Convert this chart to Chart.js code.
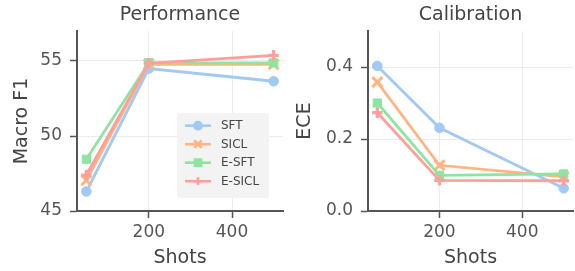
<!DOCTYPE html>
<html>
<head>
<meta charset="utf-8">
<script src="https://cdn.jsdelivr.net/npm/chart.js@4.4.1/dist/chart.umd.min.js"></script>
<style>
  html, body { margin: 0; padding: 0; background: #fff; }
  #wrap { position: relative; width: 575px; height: 271px; }
  canvas { position: absolute; top: 0; }
</style>
</head>
<body>
<div id="wrap">
  <canvas id="perfChart" width="290" height="271" style="left:0"></canvas>
  <canvas id="calibChart" width="285" height="271" style="left:290px"></canvas>
</div>
<script>
// data
const shots = [50, 200, 500];
const seriesNames = ['SFT', 'SICL', 'E-SFT', 'E-SICL'];
const seriesColors = ['#a1c9f4', '#ffb482', '#8de5a1', '#ff9f9b'];

const f1SFT = [46.3, 54.5, 53.65];
const f1SICL = [47.05, 54.8, 54.78];
const f1ESFT = [48.45, 54.88, 54.87];
const f1ESICL = [47.4, 54.85, 55.38];

const eceSFT = [0.403, 0.231, 0.063];
const eceSICL = [0.358, 0.127, 0.095];
const eceESFT = [0.300, 0.099, 0.103];
const eceESICL = [0.273, 0.085, 0.084];

const xTicks = [200, 400];
const f1Ticks = [45, 50, 55];
const eceTicks = [0.0, 0.2, 0.4];

const FONT = 'DejaVu Sans';
const TEXT = '#444444';
const AXIS = '#555555';
const GRID = '#ebebeb';

// marker per series (matplotlib o, X, s, P)
const markers = [
    { pointStyle: 'circle', radius: 4.8, borderWidth: 1 },
    { pointStyle: 'crossRot', radius: 7, borderWidth: 3 },
    { pointStyle: 'rect', radius: 5.8, borderWidth: 1 },
    { pointStyle: 'cross', radius: 5.2, borderWidth: 3.2 }
];

function makeDatasets(lists) {
    return lists.map((vals, i) => ({
        label: seriesNames[i],
        data: shots.map((s, j) => ({ x: s, y: vals[j] })),
        borderColor: seriesColors[i],
        backgroundColor: seriesColors[i],
        pointBackgroundColor: seriesColors[i],
        pointBorderColor: seriesColors[i],
        pointStyle: markers[i].pointStyle,
        pointRadius: markers[i].radius,
        pointBorderWidth: markers[i].borderWidth,
        borderWidth: 2.8,
        tension: 0,
        order: lists.length - i
    }));
}

// panel title centred over the plot area
const panelTitle = {
    id: 'panelTitle',
    afterDraw(chart, args, opts) {
        const ctx = chart.ctx;
        const a = chart.chartArea;
        ctx.save();
        ctx.fillStyle = TEXT;
        ctx.font = '19px ' + FONT;
        ctx.textAlign = 'center';
        ctx.textBaseline = 'middle';
        ctx.fillText(opts.text, (a.left + a.right) / 2, 15.5);
        ctx.restore();
    }
};

// legend box inside the left panel
const insideLegend = {
    id: 'insideLegend',
    afterDraw(chart) {
        const ctx = chart.ctx;
        const a = chart.chartArea;
        const bx = a.left + 100, by = 113, bw = 92, bh = 85;
        ctx.save();
        ctx.fillStyle = '#f3f3f3';
        ctx.beginPath();
        ctx.roundRect(bx, by, bw, bh, 3);
        ctx.fill();
        seriesNames.forEach((name, i) => {
            const y = by + 12.7 + i * 18.5;
            ctx.strokeStyle = seriesColors[i];
            ctx.lineWidth = 2.6;
            ctx.beginPath();
            ctx.moveTo(bx + 8, y);
            ctx.lineTo(bx + 34, y);
            ctx.stroke();
            ctx.fillStyle = seriesColors[i];
            Chart.helpers.drawPoint(ctx, {
                pointStyle: markers[i].pointStyle,
                radius: markers[i].radius * 0.75,
                borderWidth: markers[i].borderWidth * 0.8,
                rotation: 0
            }, bx + 21, y);
            ctx.fillStyle = TEXT;
            ctx.font = '12px ' + FONT;
            ctx.textBaseline = 'middle';
            ctx.fillText(name, bx + 44, y + 0.5);
        });
        ctx.restore();
    }
};

function makeOptions(title, yTitle, yMin, yMax, yTicks, yFmt, yWidth, padRight, yTitlePad) {
    return {
        responsive: false,
        devicePixelRatio: 1,
        animation: false,
        layout: { autoPadding: false, padding: { left: 0, right: padRight, top: 31, bottom: 0 } },
        plugins: {
            legend: { display: false },
            tooltip: { enabled: false },
            title: { display: false },
            panelTitle: { text: title }
        },
        scales: {
            x: {
                type: 'linear',
                min: 27.5,
                max: 522.5,
                afterBuildTicks: s => { s.ticks = xTicks.map(v => ({ value: v })); },
                afterFit: s => { s.height = 60; },
                ticks: { color: AXIS, font: { family: FONT, size: 17 }, padding: 4 },
                grid: { color: GRID, lineWidth: 1, tickColor: AXIS, tickLength: 7, tickWidth: 1.5 },
                border: { color: AXIS, width: 2 },
                title: {
                    display: true, text: 'Shots', color: TEXT,
                    font: { family: FONT, size: 19, lineHeight: 1 },
                    padding: { top: 0, bottom: 3.5 }
                }
            },
            y: {
                min: yMin,
                max: yMax,
                afterBuildTicks: s => { s.ticks = yTicks.map(v => ({ value: v })); },
                afterFit: s => { s.width = yWidth; },
                ticks: { color: AXIS, font: { family: FONT, size: 17 }, padding: 8, callback: yFmt },
                grid: { color: GRID, lineWidth: 1, tickColor: AXIS, tickLength: 7, tickWidth: 1.5 },
                border: { color: AXIS, width: 2 },
                title: {
                    display: true, text: yTitle, color: TEXT,
                    font: { family: FONT, size: 19, lineHeight: 1 },
                    padding: { top: yTitlePad, bottom: 0 }
                }
            }
        }
    };
}

// Performance - Macro F1
const perfCtx = document.getElementById('perfChart').getContext('2d');
const perfChart = new Chart(perfCtx, {
    type: 'line',
    data: { datasets: makeDatasets([f1SFT, f1SICL, f1ESFT, f1ESICL]) },
    options: makeOptions('Performance', 'Macro F1', 45, 57, f1Ticks, v => String(v), 77, 7, 13),
    plugins: [panelTitle, insideLegend]
});

// Calibration - ECE
const calibCtx = document.getElementById('calibChart').getContext('2d');
const calibChart = new Chart(calibCtx, {
    type: 'line',
    data: { datasets: makeDatasets([eceSFT, eceSICL, eceESFT, eceESICL]) },
    options: makeOptions('Calibration', 'ECE', 0, 0.5, eceTicks, v => Number(v).toFixed(1), 78, 2, 5.5),
    plugins: [panelTitle]
});
</script>
</body>
</html>
